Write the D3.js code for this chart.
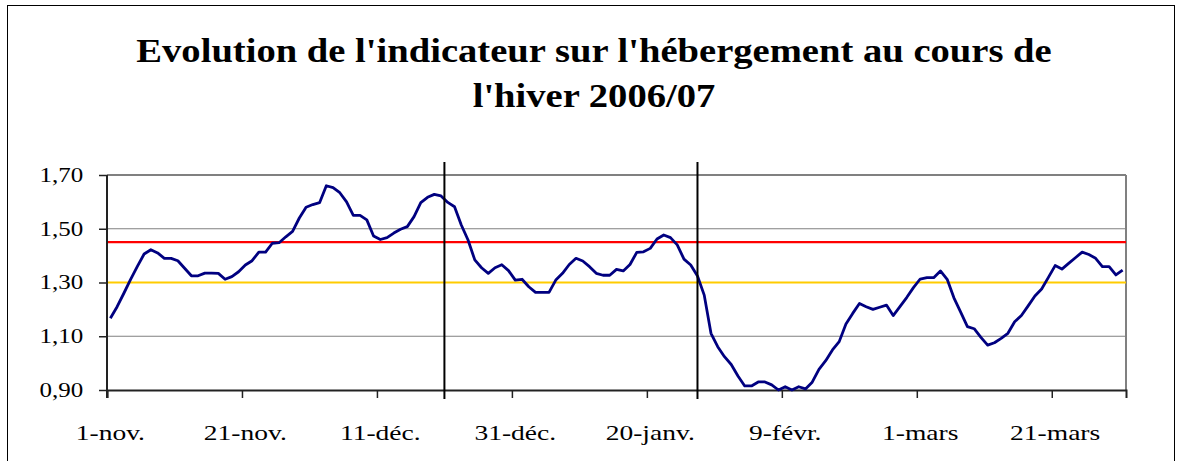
<!DOCTYPE html>
<html>
<head>
<meta charset="utf-8">
<script src="https://cdn.jsdelivr.net/npm/d3@7"></script>
<style>
  body { margin: 0; background: #fff; }
  text { font-family: "Liberation Serif", serif; fill: #000; }
</style>
</head>
<body>
<svg id="chart"></svg>
<script>
// data, one value per day from 1-nov. to 31-mars
const values = [
  1.167, 1.21, 1.26, 1.312, 1.36, 1.406, 1.422, 1.41, 1.39, 1.39, 1.381, 1.353, 1.325, 1.325, 1.335, 1.335, 1.334, 1.312, 1.322, 1.34, 1.365, 1.381, 1.413, 1.413, 1.446,
  1.448, 1.47, 1.49, 1.54, 1.58, 1.59, 1.597, 1.66, 1.653, 1.634, 1.60, 1.55, 1.55, 1.533, 1.473, 1.46, 1.467, 1.484, 1.498, 1.508, 1.545, 1.597, 1.617, 1.628, 1.622, 1.598,
  1.582, 1.514, 1.458, 1.384, 1.355, 1.334, 1.355, 1.366, 1.344, 1.309, 1.312, 1.284, 1.263, 1.263, 1.263, 1.309, 1.334, 1.367, 1.39, 1.38, 1.359, 1.334, 1.327, 1.327, 1.349,
  1.343, 1.367, 1.412, 1.414, 1.427, 1.462, 1.477, 1.467, 1.44, 1.387, 1.365, 1.324, 1.253, 1.111, 1.061, 1.024, 0.995, 0.952, 0.915, 0.915, 0.93, 0.93, 0.919, 0.90, 0.912,
  0.90, 0.912, 0.904, 0.929, 0.977, 1.009, 1.049, 1.08, 1.146, 1.185, 1.222, 1.21, 1.20, 1.208, 1.216, 1.177, 1.21, 1.244, 1.281, 1.313, 1.318, 1.318, 1.343, 1.312, 1.243,
  1.19, 1.136, 1.128, 1.096, 1.067, 1.076, 1.092, 1.111, 1.154, 1.177, 1.213, 1.25, 1.276, 1.319, 1.363, 1.35, 1.371, 1.392, 1.413, 1.404, 1.39, 1.359, 1.359, 1.328, 1.346
];
const tickDays = [0, 20, 40, 60, 80, 100, 120, 140];
const tickLabels = ["1-nov.", "21-nov.", "11-déc.", "31-déc.", "20-janv.", "9-févr.", "1-mars", "21-mars"];
const yTicks = [0.90, 1.10, 1.30, 1.50, 1.70];
const thresholds = [1.45, 1.30];
const markerDays = [50, 87.5];   // vertical separators (day offset from 1-nov.)
const titleLines = ["Evolution de l'indicateur sur l'hébergement au cours de", "l'hiver 2006/07"];

//SET CONSTANTS
const W = 1189, H = 461;
const plot = {left: 107, right: 1126, top: 175, bottom: 390};
const thresholdColors = ["#ff0000", "#ffcc00"];
const stretch = 1.25;   // the original picture is stretched sideways

const svg = d3.select("#chart").attr("width", W).attr("height", H);

// outer frame
svg.append("rect")
  .attr("x", 7.5).attr("y", 5.5)
  .attr("width", 1167).attr("height", 480)
  .attr("fill", "#fff").attr("stroke", "#000").attr("stroke-width", 1);

// title
svg.selectAll(".title").data(titleLines).enter().append("text")
  .attr("class", "title")
  .attr("transform", (d, i) => "translate(594," + (62 + i * 45) + ") scale(1.17,1)")
  .attr("text-anchor", "middle")
  .style("font-size", "33px")
  .style("font-weight", "bold")
  .text(d => d);

var x = d3.scaleLinear().domain([0, values.length]).range([plot.left, plot.right]);
var y = d3.scaleLinear().domain([0.90, 1.70]).range([plot.bottom, plot.top]);
const fmt = d => d3.format(".2f")(d).replace(".", ",");

// gridlines
svg.append("g")
  .selectAll("line").data(yTicks.slice(1)).enter().append("line")
  .attr("x1", plot.left).attr("x2", plot.right)
  .attr("y1", d => y(d)).attr("y2", d => y(d))
  .attr("stroke", "#808080")
  .attr("stroke-width", (d, i) => i == yTicks.length - 2 ? 2 : 1.2);

// right border of plot area
svg.append("line")
  .attr("x1", plot.right).attr("x2", plot.right)
  .attr("y1", plot.top).attr("y2", plot.bottom)
  .attr("stroke", "#808080").attr("stroke-width", 2);

// threshold lines
svg.append("g")
  .selectAll("line").data(thresholds).enter().append("line")
  .attr("x1", plot.left).attr("x2", plot.right)
  .attr("y1", d => y(d)).attr("y2", d => y(d))
  .attr("stroke", (d, i) => thresholdColors[i])
  .attr("stroke-width", 2.2);

// y axis
var yAxis = svg.append("g")
  .attr("transform", "translate(" + plot.left + ",0)")
  .call(d3.axisLeft(y).tickValues(yTicks).tickFormat(fmt).tickSize(8).tickPadding(11));
yAxis.select(".domain").remove();
yAxis.selectAll("line").attr("stroke", "#222").attr("stroke-width", 1.5);
yAxis.selectAll("text")
  .attr("transform", "scale(" + stretch + ",1)")
  .style("font-family", "Liberation Serif, serif")
  .style("font-size", "20px")
  .attr("fill", "#000");
svg.append("line")
  .attr("x1", plot.left).attr("x2", plot.left)
  .attr("y1", plot.top).attr("y2", plot.bottom + 8)
  .attr("stroke", "#222").attr("stroke-width", 2);

// x axis: tick marks at day boundaries, labels at day centres
var xAxis = svg.append("g")
  .attr("transform", "translate(0," + plot.bottom + ")")
  .call(d3.axisBottom(x).tickValues(tickDays).tickFormat("").tickSize(8));
xAxis.select(".domain").attr("stroke", "#222").attr("stroke-width", 2);
xAxis.selectAll("line").attr("stroke", "#222").attr("stroke-width", 1.5);

svg.append("g").selectAll("text").data(tickDays).enter().append("text")
  .attr("transform", d => "translate(" + x(d + 0.5) + ",440) scale(" + stretch + ",1)")
  .attr("text-anchor", "middle")
  .style("font-size", "22px")
  .text((d, i) => tickLabels[i]);

// data line
var line = d3.line()
  .x((d, i) => x(i + 0.5))
  .y(d => y(d));

svg.append("path")
  .datum(values)
  .attr("d", line)
  .attr("fill", "none")
  .attr("stroke", "#000080")
  .attr("stroke-width", 2.8)
  .attr("stroke-linejoin", "round");

// vertical separators
svg.append("g").selectAll("line").data(markerDays).enter().append("line")
  .attr("x1", d => x(d)).attr("x2", d => x(d))
  .attr("y1", 162).attr("y2", 399)
  .attr("stroke", "#000").attr("stroke-width", 2);
</script>
</body>
</html>
